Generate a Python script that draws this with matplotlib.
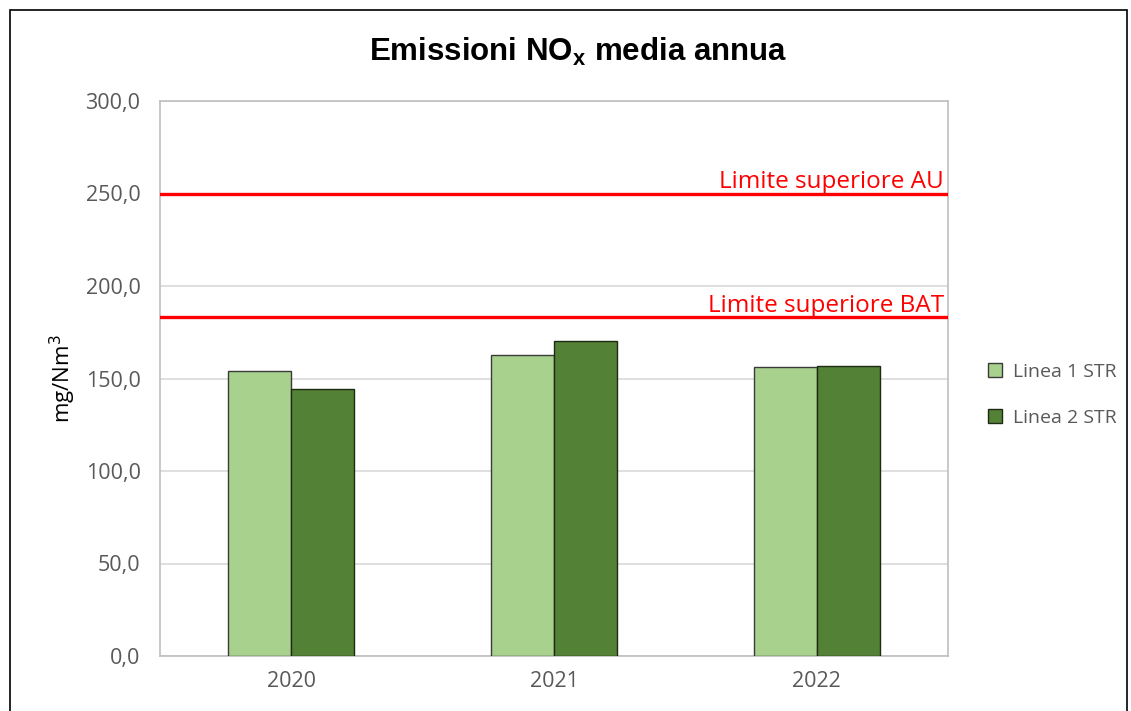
import matplotlib
matplotlib.use("Agg")
import matplotlib.pyplot as plt
from matplotlib.patches import Rectangle
from matplotlib.ticker import FuncFormatter
import numpy as np

years = ["2020", "2021", "2022"]
linea1 = [154.2, 162.7, 156.4]
linea2 = [144.3, 170.1, 156.9]
series_names = ["Linea 1 STR", "Linea 2 STR"]
limit_au = 250.0
limit_bat = 183.0
yticks = [0, 50, 100, 150, 200, 250, 300]

plt.rcParams["font.family"] = ["Open Sans", "DejaVu Sans"]

fig = plt.figure(figsize=(11.31, 7.11), dpi=100)
ax = fig.add_axes([160 / 1131, 1 - 656 / 711, 788 / 1131, 555 / 711])

x = np.arange(len(years))
w = 0.24
ax.bar(x - w / 2, linea1, w, color="#a9d18e", edgecolor="#3a3a3a", linewidth=1, label=series_names[0], zorder=3)
ax.bar(x + w / 2, linea2, w, color="#538135", edgecolor="#1e2a14", linewidth=1, label=series_names[1], zorder=3)

# limit lines with labels sitting just above them, right-aligned
ax.axhline(limit_au, color="#ff0000", linewidth=2.4, zorder=4)
ax.axhline(limit_bat, color="#ff0000", linewidth=2.4, zorder=4)
ax.text(2.485, limit_au + 3, "Limite superiore AU", color="#ff0000", fontsize=17.5,
        ha="right", va="baseline", zorder=5)
ax.text(2.485, limit_bat + 3, "Limite superiore BAT", color="#ff0000", fontsize=17.5,
        ha="right", va="baseline", zorder=5)

ax.set_xlim(-0.5, 2.5)
ax.set_ylim(0, 300)
ax.set_yticks(yticks)
ax.yaxis.set_major_formatter(FuncFormatter(lambda v, p: f"{v:.1f}".replace(".", ",")))
ax.set_xticks(x)
ax.set_xticklabels(years)
ax.tick_params(axis="both", length=0, labelsize=15.5, colors="#595959")
ax.tick_params(axis="y", pad=14)
ax.tick_params(axis="x", pad=11)
ax.grid(axis="y", color="#d9d9d9", linewidth=1.2, zorder=0)
for s in ax.spines.values():
    s.set_color("#bfbfbf")
    s.set_linewidth(1.2)

ax.set_ylabel("mg/Nm$^3$", fontsize=16, color="black", labelpad=5.5)

fig.text(578 / 1131, 1 - 52 / 711, r"Emissioni NO$_\mathregular{x}$ media annua",
         ha="center", va="center", fontsize=22.5, fontweight="bold",
         family="Liberation Sans")

ax.legend(loc="center left", bbox_to_anchor=(988 / 1131, 1 - 395 / 711),
          bbox_transform=fig.transFigure, frameon=False, fontsize=14,
          labelcolor="#595959", handlelength=0.7, handleheight=0.7,
          handletextpad=0.6, labelspacing=1.45, borderpad=0, borderaxespad=0)

fig.patches.append(Rectangle((10 / 1131, -0.05), 1117 / 1131, 1.05 - 10 / 711,
                             transform=fig.transFigure, fill=False,
                             edgecolor="black", linewidth=1.2))

fig.savefig("out.png", dpi=100)
